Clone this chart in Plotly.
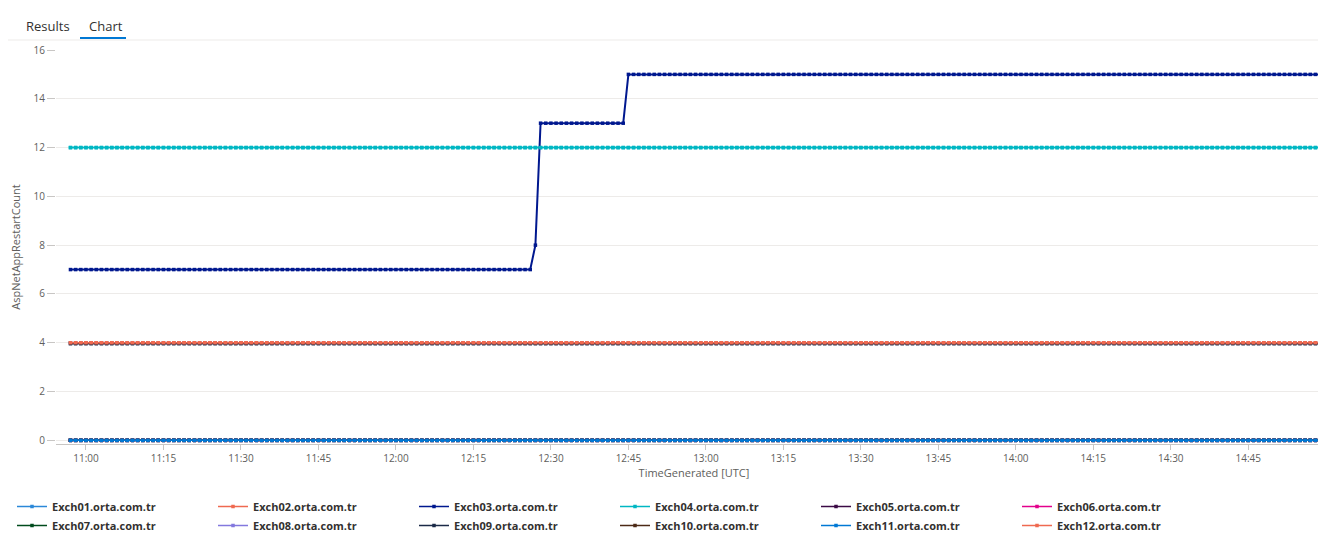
import plotly.graph_objects as go
import pandas as pd

times = pd.date_range("2024-01-01 10:57", "2024-01-01 14:59", freq="1min")
n = len(times)

series_names = ["Exch01.orta.com.tr", "Exch02.orta.com.tr", "Exch03.orta.com.tr", "Exch04.orta.com.tr",
                "Exch05.orta.com.tr", "Exch06.orta.com.tr", "Exch07.orta.com.tr", "Exch08.orta.com.tr",
                "Exch09.orta.com.tr", "Exch10.orta.com.tr", "Exch11.orta.com.tr", "Exch12.orta.com.tr",
                "ev-app.orta.com.tr", "ev-db.orta.com.tr"]
colors = ["#2b88d8", "#ef6950", "#00188f", "#00b7c3", "#3b0a45", "#e3008c", "#004b1c", "#8378de",
          "#1b2a47", "#4c2a16", "#0078d4", "#ef6950", "#00188f", "#00b7c3"]

level_exch01 = 4
level_exch02 = 4
level_exch03 = 0
level_exch04 = 12
level_exch05 = 0
level_exch06 = 0
level_exch07 = 0
level_exch08 = 0
level_exch09 = 3.96
level_exch10 = 0
level_exch11 = 0
level_exch12 = 4
level_evdb = 12
# ev-app: 10:57-12:26 -> 7, 12:27 -> 8, 12:28-12:44 -> 13, 12:45-14:59 -> 15
evapp_values = [7] * 90 + [8] * 1 + [13] * 17 + [15] * 135

levels = [level_exch01, level_exch02, level_exch03, level_exch04, level_exch05, level_exch06,
          level_exch07, level_exch08, level_exch09, level_exch10, level_exch11, level_exch12,
          None, level_evdb]

fig = go.Figure()
for name, col, lv in zip(series_names, colors, levels):
    y = evapp_values if lv is None else [lv] * n
    fig.add_trace(go.Scatter(x=times, y=y, name=name, mode="lines+markers",
                             line=dict(color=col, width=2 if lv is None else 1.5),
                             marker=dict(color=col, size=3.5, symbol="square")))

H = 541 - 42 - 105
fig.update_layout(
    width=1326, height=541, paper_bgcolor="white", plot_bgcolor="white",
    margin=dict(l=48, r=2, t=42, b=105, autoexpand=False),
    font=dict(family="Open Sans, Noto Sans, sans-serif", size=10, color="#605e5c"),
    xaxis=dict(title=dict(text="TimeGenerated [UTC]", font=dict(size=11, color="#605e5c"), standoff=2),
               range=[pd.Timestamp("2024-01-01 10:54:12"), pd.Timestamp("2024-01-01 15:01:12")],
               tickformat="%H:%M", dtick=15 * 60 * 1000, showgrid=False,
               showline=True, linecolor="#c8c6c4", ticks="outside", tickcolor="#c8c6c4",
               ticklen=5, zeroline=False, tickfont=dict(size=10)),
    yaxis=dict(title=dict(text="AspNetAppRestartCount", font=dict(size=11, color="#605e5c"), standoff=10),
               range=[-0.15, 16.0], dtick=2, gridcolor="#edebe9", zeroline=False,
               ticks="outside", tickcolor="#c8c6c4", ticklen=8, tickfont=dict(size=10)),
    legend=dict(orientation="h", x=4/1326, y=(541 - 484) / 541, xref="container", yref="container",
                xanchor="left", yanchor="top",
                entrywidth=156, entrywidthmode="pixels", itemwidth=30,
                font=dict(size=11, color="#323130", weight="bold"), tracegroupgap=0),
    showlegend=True,
)
fig.add_annotation(text="Results", x=-32/1276, y=1 + 24/H, xref="paper", yref="paper",
                   showarrow=False, xanchor="left", yanchor="middle", font=dict(size=13, color="#323130"))
fig.add_annotation(text="Chart", x=31/1276, y=1 + 24/H, xref="paper", yref="paper",
                   showarrow=False, xanchor="left", yanchor="middle", font=dict(size=13, color="#323130"))
fig.add_shape(type="line", xref="paper", yref="paper", x0=24/1276, x1=70/1276,
              y0=1 + 12/H, y1=1 + 12/H, line=dict(color="#0078d4", width=2))
fig.add_shape(type="line", xref="paper", yref="paper", x0=-48/1276, x1=1,
              y0=1 + 10/H, y1=1 + 10/H, line=dict(color="#edebe9", width=1))
fig.write_html("out.html")
